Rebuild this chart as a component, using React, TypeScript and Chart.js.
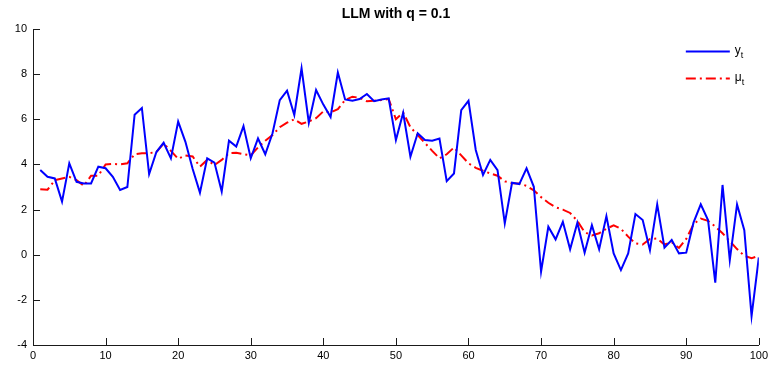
import React, { useEffect, useRef } from "react";
import { Chart, registerables } from "chart.js";

Chart.register(...registerables);

const titleText = "LLM with q = 0.1";
const seriesNames = ["y", "μ"];
const seriesSubscript = "t";

const timeIndex = [
  1, 2, 3, 4, 5, 6, 7, 8, 9, 10, 11, 12, 13, 14, 15, 16, 17, 18, 19, 20,
  21, 22, 23, 24, 25, 26, 27, 28, 29, 30, 31, 32, 33, 34, 35, 36, 37, 38, 39, 40,
  41, 42, 43, 44, 45, 46, 47, 48, 49, 50, 51, 52, 53, 54, 55, 56, 57, 58, 59, 60,
  61, 62, 63, 64, 65, 66, 67, 68, 69, 70, 71, 72, 73, 74, 75, 76, 77, 78, 79, 80,
  81, 82, 83, 84, 85, 86, 87, 88, 89, 90, 91, 92, 93, 94, 95, 96, 97, 98, 99, 100,
];

const observed = [
  3.75, 3.45, 3.38, 2.35, 4.05, 3.23, 3.16, 3.16, 3.9, 3.83,
  3.45, 2.87, 3.0, 6.2, 6.5, 3.57, 4.55, 4.96, 4.27, 5.9,
  5.0, 3.8, 2.75, 4.27, 4.08, 2.8, 5.05, 4.79, 5.7, 4.27,
  5.15, 4.45, 5.38, 6.85, 7.27, 6.19, 8.26, 5.85, 7.3, 6.65,
  6.1, 8.07, 6.88, 6.82, 6.9, 7.12, 6.8, 6.88, 6.93, 5.08,
  6.29, 4.34, 5.38, 5.08, 5.05, 5.15, 3.26, 3.6, 6.41, 6.82,
  4.64, 3.53, 4.2, 3.75, 1.39, 3.19, 3.13, 3.83, 3.01, -0.75,
  1.24, 0.68, 1.46, 0.24, 1.42, 0.09, 1.31, 0.24, 1.71, 0.06,
  -0.68, 0.06, 1.8, 1.54, 0.2, 2.23, 0.31, 0.65, 0.06, 0.09,
  1.42, 2.23, 1.54, -1.24, 3.09, -0.24, 2.23, 1.09, -2.72, -0.12,
];

const level = [
  2.9, 2.88, 3.3, 3.38, 3.45, 3.3, 3.05, 3.5, 3.5, 4.0,
  4.02, 4.0, 4.05, 4.45, 4.5, 4.5, 4.55, 4.92, 4.6, 4.25,
  4.4, 4.35, 3.9, 4.2, 3.97, 4.2, 4.5, 4.52, 4.45, 4.4,
  4.75, 5.05, 5.3, 5.65, 5.85, 6.0, 5.8, 5.9, 6.05, 6.35,
  6.3, 6.45, 6.85, 7.0, 6.95, 6.8, 6.82, 6.85, 6.9, 6.0,
  6.3, 5.65, 5.3, 4.95, 4.6, 4.27, 4.45, 4.75, 4.4, 4.05,
  3.85, 3.72, 3.6, 3.5, 3.25, 3.17, 3.15, 3.05, 2.85, 2.55,
  2.3, 2.1, 2.0, 1.85, 1.5, 1.0, 0.85, 0.95, 1.15, 1.3,
  1.15, 0.8, 0.5, 0.45, 0.7, 0.72, 0.45, 0.55, 0.3, 0.7,
  1.35, 1.6, 1.5, 1.25, 0.95, 0.6, 0.25, -0.05, -0.15, -0.05,
];

const xTicks = [0, 10, 20, 30, 40, 50, 60, 70, 80, 90, 100];
const yTicks = [-4, -2, 0, 2, 4, 6, 8, 10];

const FONT = '"Liberation Sans", Arial, Helvetica, sans-serif';
const AXIS_COLOR = "#1a1a1a";

const matlabAxesPlugin = {
  id: "matlabAxes",
  afterDraw(chart: any) {
    const { ctx, chartArea, scales } = chart;
    const { left, right, top, bottom } = chartArea;
    const x = scales.x;
    const y = scales.y;
    ctx.save();
    // inward ticks
    ctx.strokeStyle = AXIS_COLOR;
    ctx.lineWidth = 1;
    ctx.beginPath();
    x.ticks.forEach((t: any) => {
      const px = Math.round(x.getPixelForValue(t.value)) + 0.5;
      ctx.moveTo(px, bottom);
      ctx.lineTo(px, bottom - 7);
    });
    y.ticks.forEach((t: any) => {
      const py = Math.round(y.getPixelForValue(t.value)) + 0.5;
      ctx.moveTo(left, py);
      ctx.lineTo(left + 7, py);
    });
    ctx.stroke();

    // legend inside the axes, top-right
    chart.data.datasets.forEach((ds: any, i: number) => {
      const ly = Math.round(top + 22 + i * 27) + 0.5;
      const x0 = right - 73;
      const x1 = right - 29;
      ctx.strokeStyle = ds.borderColor;
      ctx.lineWidth = ds.borderWidth;
      ctx.setLineDash(ds.borderDash || []);
      ctx.beginPath();
      ctx.moveTo(x0, ly);
      ctx.lineTo(x1, ly);
      ctx.stroke();
      ctx.setLineDash([]);
      ctx.fillStyle = "#000";
      ctx.textAlign = "left";
      ctx.textBaseline = "alphabetic";
      ctx.font = `12px ${FONT}`;
      const name = seriesNames[i];
      ctx.fillText(name, x1 + 5, ly + 2.5);
      const w = ctx.measureText(name).width;
      ctx.font = `9px ${FONT}`;
      ctx.fillText(seriesSubscript, x1 + 5 + w, ly + 6.5);
    });
    ctx.restore();
  },
};

export default function App() {
  const canvasRef = useRef<HTMLCanvasElement | null>(null);

  useEffect(() => {
    const canvas = canvasRef.current;
    if (!canvas) return;
    const chart = new Chart(canvas, {
      type: "line",
      data: {
        datasets: [
          {
            label: seriesNames[0] + seriesSubscript,
            data: timeIndex.map((t, i) => ({ x: t, y: observed[i] })),
            borderColor: "#0000ff",
            backgroundColor: "#0000ff",
            borderWidth: 2,
            pointRadius: 0,
            tension: 0,
            fill: false,
          },
          {
            label: seriesNames[1] + seriesSubscript,
            data: timeIndex.map((t, i) => ({ x: t, y: level[i] })),
            borderColor: "#ff0000",
            backgroundColor: "#ff0000",
            borderWidth: 2,
            borderDash: [10, 4, 2, 4],
            pointRadius: 0,
            tension: 0,
            fill: false,
          },
        ],
      },
      options: {
        responsive: false,
        animation: false,
        events: [],
        layout: { padding: { left: 0, right: 13, top: 0, bottom: 0 } },
        plugins: {
          legend: { display: false },
          tooltip: { enabled: false },
          title: {
            display: true,
            text: titleText,
            fullSize: false,
            color: "#000",
            font: { family: FONT, size: 14, weight: "bold", lineHeight: 1.2 },
            padding: { top: 6, bottom: 6.2 },
          },
        },
        scales: {
          x: {
            type: "linear",
            min: 0,
            max: 100,
            afterBuildTicks: (s: any) => {
              s.ticks = xTicks.map((v) => ({ value: v }));
            },
            afterFit: (s: any) => {
              s.height = 24;
            },
            grid: { display: true, drawOnChartArea: false, drawTicks: false },
            border: { display: true, color: AXIS_COLOR, width: 1 },
            ticks: {
              color: "#000",
              padding: 4,
              maxRotation: 0,
              autoSkip: false,
              font: { family: FONT, size: 11 },
            },
          },
          y: {
            type: "linear",
            min: -4,
            max: 10,
            afterBuildTicks: (s: any) => {
              s.ticks = yTicks.map((v) => ({ value: v }));
            },
            afterFit: (s: any) => {
              s.width = 33;
            },
            grid: { display: true, drawOnChartArea: false, drawTicks: false },
            border: { display: true, color: AXIS_COLOR, width: 1 },
            ticks: {
              color: "#000",
              padding: 6,
              autoSkip: false,
              font: { family: FONT, size: 11 },
            },
          },
        },
      },
      plugins: [matlabAxesPlugin],
    });
    return () => chart.destroy();
  }, []);

  return (
    <div style={{ position: "absolute", left: 0, top: 0, width: 772, height: 369, background: "#fff" }}>
      <canvas ref={canvasRef} width={772} height={369} />
    </div>
  );
}
